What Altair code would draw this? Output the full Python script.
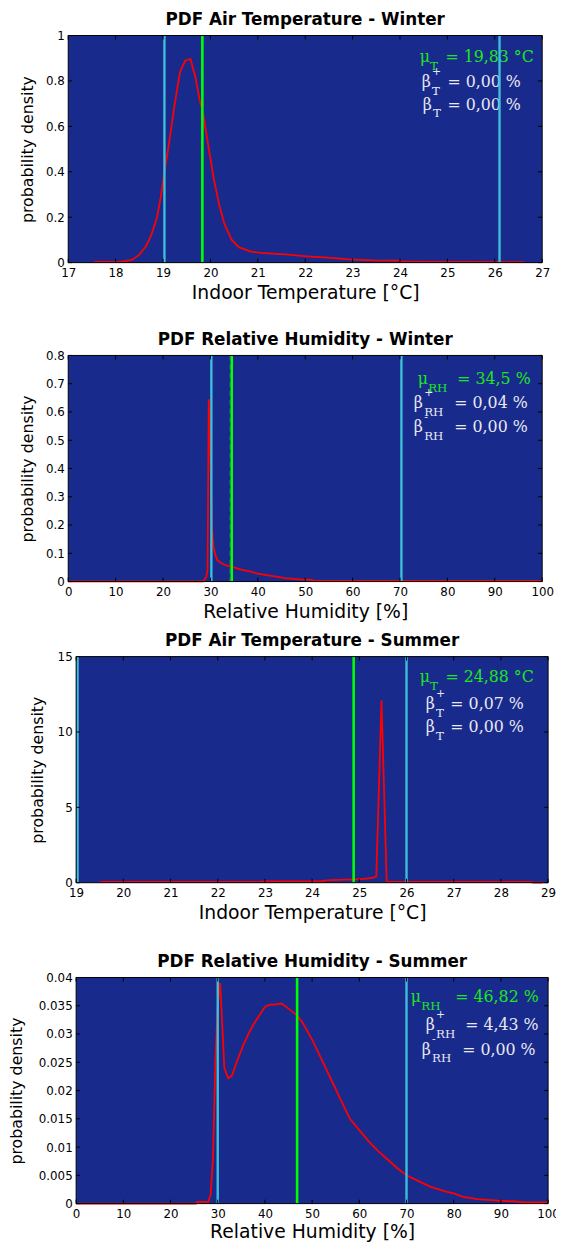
import altair as alt
import pandas as pd

# ---------------- data ----------------
# PDF Air Temperature - Winter
tw_x = [17.55, 18.11, 18.34, 18.49, 18.64, 18.75, 18.87, 18.96, 19.03, 19.13, 19.24, 19.36,
        19.47, 19.58, 19.68, 19.77, 19.85, 19.96, 20.07, 20.19, 20.30, 20.45, 20.60, 20.83,
        21.05, 21.58, 22.03, 22.48, 22.93, 23.46, 23.99, 24.06, 24.97, 26.62]
tw_y = [0.003, 0.003, 0.012, 0.033, 0.072, 0.12, 0.196, 0.297, 0.40, 0.53, 0.69, 0.84,
        0.89, 0.896, 0.82, 0.72, 0.65, 0.51, 0.37, 0.25, 0.167, 0.10, 0.068, 0.05,
        0.043, 0.036, 0.028, 0.022, 0.014, 0.010, 0.009, 0.004, 0.003, 0.002]
tw_xticks = [17, 18, 19, 20, 21, 22, 23, 24, 25, 26, 27]
tw_yticks = [0, 0.2, 0.4, 0.6, 0.8, 1]
tw_limits = [19.03, 26.1]
tw_mean = 19.83

# PDF Relative Humidity - Winter
hw_x = [0, 28.5, 29.1, 29.4, 29.65, 30.0, 30.3, 30.6, 31.0, 31.5, 32.5, 33.5, 34.9,
        36.5, 38.3, 40.0, 42.8, 45.8, 48.8, 51.4, 52.0, 60.0, 100.0]
hw_y = [0.001, 0.001, 0.015, 0.04, 0.645, 0.45, 0.2, 0.13, 0.095, 0.075, 0.063, 0.056, 0.05,
        0.042, 0.036, 0.028, 0.02, 0.012, 0.008, 0.006, 0.002, 0.002, 0.002]
hw_xticks = [0, 10, 20, 30, 40, 50, 60, 70, 80, 90, 100]
hw_yticks = [0, 0.1, 0.2, 0.3, 0.4, 0.5, 0.6, 0.7, 0.8]
hw_limits = [30.2, 70.3]
hw_mean = 34.5

# PDF Air Temperature - Summer
ts_x = [19.5, 22.9, 23.0, 24.2, 24.3, 24.7, 24.9, 25.1, 25.3, 25.36, 25.47, 25.58, 25.65,
        28.6, 28.7, 28.85, 28.9]
ts_y = [0.05, 0.05, 0.09, 0.10, 0.15, 0.20, 0.22, 0.26, 0.33, 0.42, 12.1, 0.05, 0.05,
        0.05, 0.0, 0.0, 0.03]
ts_xticks = [19, 20, 21, 22, 23, 24, 25, 26, 27, 28, 29]
ts_yticks = [0, 5, 10, 15]
ts_limits = [19.03, 26.0]
ts_mean = 24.88

# PDF Relative Humidity - Summer
hs_x = [0, 25.4, 25.6, 28.0, 28.5, 29.0, 29.5, 30.0, 30.5, 31.0, 31.4, 32.2, 33.0, 34.0,
        35.3, 36.5, 37.5, 40.0, 41.0, 42.0, 43.5, 45.0, 46.8, 48.0, 50.0, 52.0, 54.0,
        56.0, 58.0, 60.0, 62.0, 64.0, 66.0, 68.0, 70.0, 72.0, 75.0, 78.0, 80.0, 82.0,
        85.0, 88.0, 90.0, 93.0, 95.0, 100.0]
hs_y = [0, 0, 0.0003, 0.0003, 0.0016, 0.008, 0.025, 0.035, 0.039, 0.031, 0.024, 0.0222,
        0.0226, 0.025, 0.0278, 0.030, 0.0316, 0.0348, 0.0352, 0.0352, 0.0354, 0.0345,
        0.0333, 0.032, 0.029, 0.0255, 0.022, 0.0185, 0.015, 0.013, 0.011, 0.0093, 0.0078,
        0.0063, 0.005, 0.0042, 0.003, 0.0022, 0.0018, 0.0012, 0.0008, 0.0006, 0.0005,
        0.0004, 0.0002, 0.0002]
hs_xticks = [0, 10, 20, 30, 40, 50, 60, 70, 80, 90, 100]
hs_yticks = [0, 0.005, 0.01, 0.015, 0.02, 0.025, 0.03, 0.035, 0.04]
hs_limits = [30.0, 70.0]
hs_mean = 46.82

# annotation texts
ann_tw = [("μ", "", "T", "= 19,83 °C"), ("β", "+", "T", "= 0,00 %"), ("β", "-", "T", "= 0,00 %")]
ann_hw = [("μ", "", "RH", "= 34,5 %"), ("β", "+", "RH", "= 0,04 %"), ("β", "-", "RH", "= 0,00 %")]
ann_ts = [("μ", "", "T", "= 24,88 °C"), ("β", "+", "T", "= 0,07 %"), ("β", "", "T", "= 0,00 %")]
ann_hs = [("μ", "", "RH", "= 46,82 %"), ("β", "+", "RH", "= 4,43 %"), ("β", "-", "RH", "= 0,00 %")]

# ---------------- styling / layout ----------------
BG = "#182B8C"
CYAN = "#3EBFD8"
GREEN = "#00FF00"
RED = "#FF0000"
TXT_GREEN = "#1EE61E"
TXT_WHITE = "#E8E8F2"
SANS = "DejaVu Sans"
SERIF = "DejaVu Serif"
PANEL_W = 487
TICK = 4

# annotation placement (plot-relative pixels): (x of symbol, baseline, x of value text)
pos_tw = [(356, 27, 382), (358, 52, 384), (359, 75, 384)]
pos_hw = [(354, 29, 394), (350, 53, 391), (350, 78, 391)]
pos_ts = [(348, 26, 374), (354, 53, 379), (354, 76, 379)]
pos_hs = [(339, 25, 384), (354, 53, 394), (350, 78, 391)]

dummy = pd.DataFrame({"d": [0]})


def text_piece(txt, px, py, size, color):
    return alt.Chart(dummy).mark_text(
        text=txt, font=SERIF, fontSize=size, color=color,
        align="left", baseline="alphabetic",
    ).encode(x=alt.value(px), y=alt.value(py))


def annotations(ann, pos, x_off):
    layers = []
    for i, ((sym, sup, sub, rest), (xs, yb, xr)) in enumerate(zip(ann, pos)):
        color = TXT_GREEN if i == 0 else TXT_WHITE
        xsub = xs + 10.5
        layers.append(text_piece(sym, x_off + xs, yb, 16, color))
        if sup:
            layers.append(text_piece(sup, x_off + xsub, yb - 12, 11, color))
        layers.append(text_piece(sub, x_off + xsub, yb + 8, 12, color))
        layers.append(text_piece(rest, x_off + xr, yb, 16, color))
    return layers


def panel(title, xs, ys, xticks, yticks, xlabel, limits, mean, ann, pos,
          plot_w, plot_h, x_off, title_dx, ytitle_pad, xtitle_pad, dashed_mean=False):
    xscale = alt.Scale(domain=[xticks[0], xticks[-1]], range=[x_off, x_off + plot_w],
                       nice=False, zero=False)
    yscale = alt.Scale(domain=[yticks[0], yticks[-1]], nice=False, zero=False)
    frame = pd.DataFrame({"x0": [xticks[0]], "x1": [xticks[-1]],
                          "y0": [yticks[0]], "y1": [yticks[-1]]})
    xaxis = alt.Axis(values=xticks, format="~r", title=xlabel, grid=False, domain=False,
                     ticks=False, labelFont=SANS, labelFontSize=12, labelColor="black",
                     labelPadding=5, labelFlush=False, labelOverlap=False,
                     titleFont=SANS, titleFontSize=19, titleFontWeight="normal",
                     titleColor="black", titlePadding=xtitle_pad)
    ykw = dict(values=yticks, format="~r", title="probability density", grid=False,
               domain=False, ticks=False, labelFont=SANS, labelFontSize=12,
               labelColor="black", labelPadding=4, labelFlush=False, labelOverlap=False,
               titleFont=SANS, titleFontSize=16, titleFontWeight="normal",
               titleColor="black", titlePadding=ytitle_pad)
    if x_off:
        ykw["offset"] = -x_off
    yaxis = alt.Axis(**ykw)

    def X(f):
        return alt.X(f, scale=xscale, axis=xaxis)

    def Y(f):
        return alt.Y(f, scale=yscale, axis=yaxis)

    bg = alt.Chart(frame).mark_rect(fill=BG, strokeWidth=0).encode(
        x=X("x0:Q"), x2="x1:Q", y=Y("y0:Q"), y2="y1:Q")

    curve = alt.Chart(pd.DataFrame({"x": xs, "y": ys})).mark_line(
        color=RED, strokeWidth=1.8).encode(x=X("x:Q"), y=Y("y:Q"))

    lim = alt.Chart(pd.DataFrame({"v": limits})).mark_rule(
        color=CYAN, strokeWidth=2.4).encode(x=X("v:Q"))

    mean_df = pd.DataFrame({"v": [mean]})
    mline = alt.Chart(mean_df).mark_rule(color=GREEN, strokeWidth=2.6).encode(x=X("v:Q"))
    extra = []
    if dashed_mean:
        extra.append(alt.Chart(mean_df).mark_rule(
            color="#2E9E55", strokeWidth=1, strokeDash=[5, 4], xOffset=-1.6).encode(
            x=X("v:Q")))

    xt = pd.DataFrame({"v": xticks})
    yt = pd.DataFrame({"v": yticks})
    tb = alt.Chart(xt).mark_rule(color="black", strokeWidth=1).encode(
        x=X("v:Q"), y=alt.value(plot_h), y2=alt.value(plot_h - TICK))
    tt = alt.Chart(xt).mark_rule(color="black", strokeWidth=1).encode(
        x=X("v:Q"), y=alt.value(0), y2=alt.value(TICK))
    tl = alt.Chart(yt).mark_rule(color="black", strokeWidth=1).encode(
        y=Y("v:Q"), x=alt.value(x_off), x2=alt.value(x_off + TICK))
    tr = alt.Chart(yt).mark_rule(color="black", strokeWidth=1).encode(
        y=Y("v:Q"), x=alt.value(x_off + plot_w - TICK), x2=alt.value(x_off + plot_w))

    border = alt.Chart(frame).mark_rect(fillOpacity=0, stroke="black", strokeWidth=1).encode(
        x=X("x0:Q"), x2="x1:Q", y=Y("y0:Q"), y2="y1:Q")

    layers = [bg] + annotations(ann, pos, x_off) + [curve, mline] + extra + [lim, tb, tt, tl, tr, border]
    return alt.layer(*layers).properties(
        width=PANEL_W, height=plot_h,
        title=alt.TitleParams(title, font=SANS, fontSize=17, fontWeight="bold",
                              color="black", anchor="middle", offset=1, dx=title_dx))


p1 = panel("PDF Air Temperature - Winter", tw_x, tw_y, tw_xticks, tw_yticks,
           "Indoor Temperature [°C]", tw_limits, tw_mean, ann_tw, pos_tw,
           480, 230, 0, -3.5, 10, 5)
p2 = panel("PDF Relative Humidity - Winter", hw_x, hw_y, hw_xticks, hw_yticks,
           "Relative Humidity [%]", hw_limits, hw_mean, ann_hw, pos_hw,
           480, 229, 0, -3.5, 10, 5, dashed_mean=True)
p3 = panel("PDF Air Temperature - Summer", ts_x, ts_y, ts_xticks, ts_yticks,
           "Indoor Temperature [°C]", ts_limits, ts_mean, ann_ts, pos_ts,
           478, 229, 8, 3.5, 12, 5)
p4 = panel("PDF Relative Humidity - Summer", hs_x, hs_y, hs_xticks, hs_yticks,
           "Relative Humidity [%]", hs_limits, hs_mean, ann_hs, pos_hs,
           478, 229, 8, 3.5, 14, 3)

top = alt.vconcat(p1, p2, spacing=29)
bottom = alt.vconcat(p3, p4, spacing=31)
chart = alt.vconcat(top, bottom, spacing=11,
                    padding={"left": 0, "top": -5, "right": -4, "bottom": -7}
                    ).configure_view(stroke=None)

chart.save("out.html", embed_options={"renderer": "svg", "actions": False})
